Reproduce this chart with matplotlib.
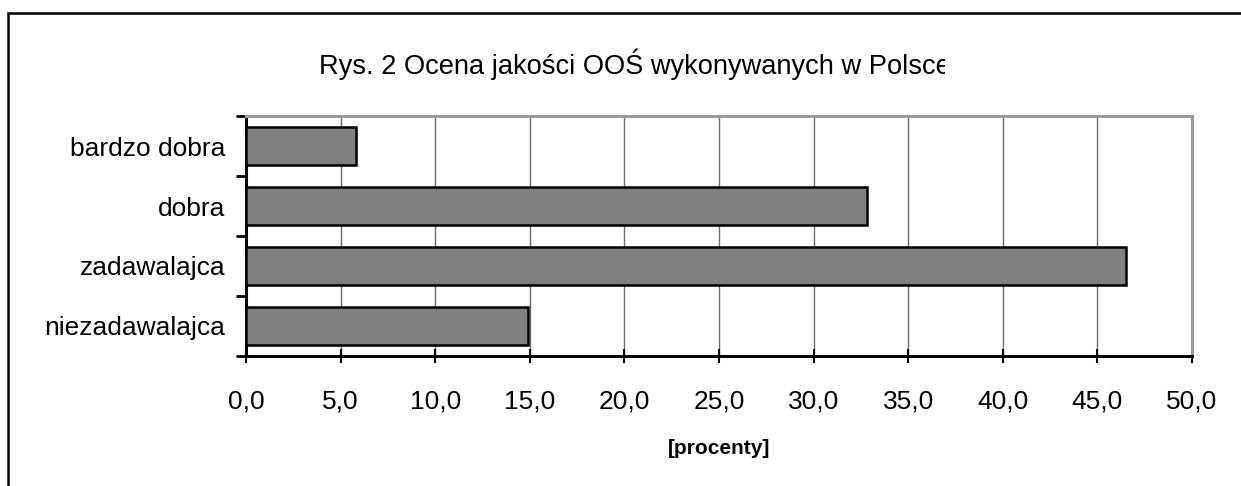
import matplotlib
matplotlib.use("Agg")
import matplotlib.pyplot as plt
from matplotlib.patches import Rectangle
from matplotlib.transforms import Bbox, TransformedBbox
from matplotlib.ticker import FixedLocator, NullFormatter

plt.rcParams['font.family'] = ['Liberation Sans', 'DejaVu Sans']

categories = ["bardzo dobra", "dobra", "zadawalajca", "niezadawalajca"]
values = [5.8, 32.8, 46.5, 14.9]
xticks = [0, 5, 10, 15, 20, 25, 30, 35, 40, 45, 50]
xticklabels = ["0,0", "5,0", "10,0", "15,0", "20,0", "25,0", "30,0", "35,0", "40,0", "45,0", "50,0"]
title = "Rys. 2 Ocena jakości OOŚ wykonywanych w Polsce"
xlabel = "[procenty]"

W, H = 1241, 486
fig = plt.figure(figsize=(W / 100, H / 100), dpi=100)
fig.patch.set_facecolor("white")

ax = fig.add_axes([246 / W, (H - 356) / H, (1192 - 246) / W, (356 - 116) / H])

n = len(categories)
ypos = list(range(n))[::-1]
ax.barh(ypos, values, height=0.63, color="#808080", edgecolor="black", linewidth=1.8, zorder=3)

ax.set_xlim(0, 50)
ax.set_ylim(-0.5, n - 0.5)

ax.xaxis.set_major_locator(FixedLocator(xticks))
ax.set_xticklabels(xticklabels, fontsize=19)
ax.tick_params(axis="x", direction="inout", length=10, width=1.5, pad=19, colors="black")
ax.grid(axis="x", color="#6e6e6e", linewidth=1.0, zorder=0)

ax.set_yticks(ypos)
ax.set_yticklabels(categories, fontsize=19)
ax.tick_params(axis="y", which="major", length=0, pad=15)
ax.yaxis.set_minor_locator(FixedLocator([-0.5 + i for i in range(n + 1)]))
ax.yaxis.set_minor_formatter(NullFormatter())
ax.tick_params(axis="y", which="minor", direction="out", length=7, width=2, color="black")

for s in ["left", "bottom"]:
    ax.spines[s].set_color("black")
    ax.spines[s].set_linewidth(2.2)
for s in ["top", "right"]:
    ax.spines[s].set_color("#9a9a9a")
    ax.spines[s].set_linewidth(2.2)

t = fig.text(319 / W, 1 - 64 / H, title, fontsize=19.6, ha="left", va="center")
t.set_clip_box(TransformedBbox(Bbox([[0, 0], [945 / W, 1]]), fig.transFigure))
t.set_clip_on(True)

fig.text(719 / W, 1 - 448 / H, xlabel, fontsize=15, fontweight="bold", ha="center", va="center")

frame = Rectangle((8 / W, -0.1), 1.2, 1.1 - 13 / H, transform=fig.transFigure,
                  fill=False, edgecolor="black", linewidth=1.8, clip_on=False)
fig.add_artist(frame)

fig.savefig("out.png", dpi=100)
